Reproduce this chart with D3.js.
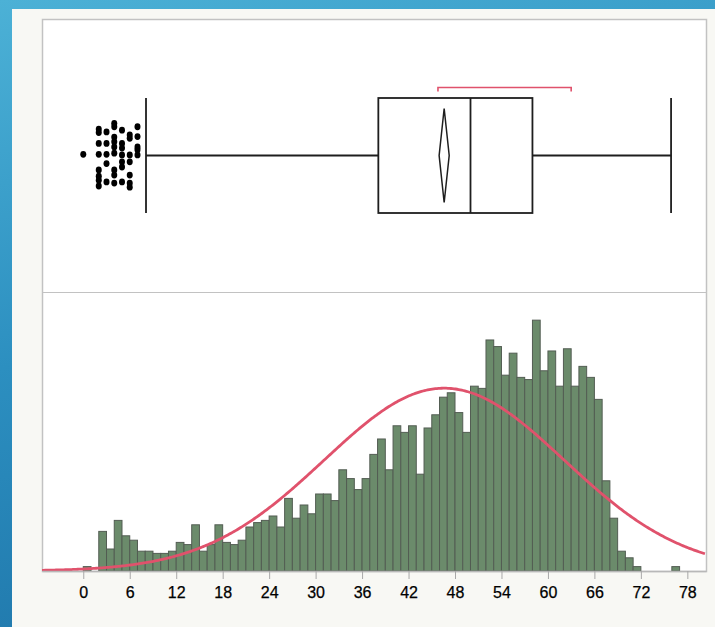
<!DOCTYPE html>
<html>
<head>
<meta charset="utf-8">
<script src="https://cdn.jsdelivr.net/npm/d3@7"></script>
<style>
  html, body { margin: 0; padding: 0; }
  body {
    width: 715px; height: 627px; overflow: hidden;
    background: linear-gradient(165deg, #4cb1d6 0%, #2c8fc0 45%, #1b6ea3 100%);
  }
  svg { display: block; }
  .tick text {
    font-family: "Liberation Sans", Arial, sans-serif; font-size: 16px;
    fill: #000; stroke: #000; stroke-width: 0.25px;
  }
</style>
</head>
<body>
<svg id="chart" width="715" height="627"></svg>
<script>
// histogram: counts for bins [k, k+1), k = 0..76
const binStart = 0;
const binCounts = [
  2, 0, 18, 10, 23, 16, 14, 9, 9, 8,
  8, 9, 13, 12, 21, 9, 12, 21, 13, 12,
  14, 20, 22, 23, 25, 20, 33, 24, 30, 26,
  35, 35, 32, 46, 42, 37, 42, 53, 60, 46,
  66, 63, 66, 44, 65, 71, 79, 81, 72, 63,
  84, 83, 105, 102, 89, 99, 88, 87, 114, 91,
  100, 84, 101, 84, 93, 88, 78, 41, 24, 9,
  6, 2, 0, 0, 0, 0, 2
];
const tickValues = [0, 6, 12, 18, 24, 30, 36, 42, 48, 54, 60, 66, 72, 78];

// box plot summary
const whiskerLow = 8.1, q1 = 38.1, median = 50, q3 = 58, whiskerHigh = 75.9;
const mean = 46.6, meanCI = [45.95, 47.25], sd = 15.5;
const shortestHalf = [45.8, 63.0];

// low outliers (value, vertical jitter as fraction of box half-height)
const outlierValues = [
  0,
  2, 2, 2, 2, 2, 2, 2, 2,
  3, 3, 3, 3, 3,
  4, 4, 4, 4, 4, 4, 4, 4, 4,
  5, 5, 5, 5, 5, 5, 5,
  6, 6, 6, 6, 6, 6, 6,
  7, 7, 7, 7, 7
];
const outlierJitter = [
  -0.02,
  -0.46, -0.40, -0.21, -0.02, 0.25, 0.36, 0.43, 0.53,
  -0.41, -0.21, -0.02, 0.14, 0.46,
  -0.56, -0.50, -0.32, -0.24, -0.15, -0.04, 0.25, 0.34, 0.48,
  -0.44, -0.21, -0.13, -0.01, 0.11, 0.20, 0.46,
  -0.36, -0.30, -0.01, 0.11, 0.34, 0.48, 0.55,
  -0.50, -0.33, -0.15, -0.10, -0.01
];

const svg = d3.select("#chart");

// panel + frame
const frame = { left: 42, right: 706, top: 19, mid: 292, bottom: 571 };
svg.append("rect")
  .attr("x", 12).attr("y", 9).attr("width", 703).attr("height", 618)
  .attr("fill", "#f8f8f4");
svg.append("rect")
  .attr("x", frame.left + 0.5).attr("y", frame.top + 0.5)
  .attr("width", frame.right - frame.left).attr("height", frame.bottom - frame.top)
  .attr("fill", "#fff").attr("stroke", "#c2c2c2").attr("stroke-width", 1.5);
svg.append("line")
  .attr("x1", frame.left).attr("x2", frame.right)
  .attr("y1", frame.mid + 0.5).attr("y2", frame.mid + 0.5)
  .attr("stroke", "#c2c2c2").attr("stroke-width", 1.2);

const x = d3.scaleLinear().domain([-5.33, 80.41]).range([frame.left, frame.right]);
const y = d3.scaleLinear().domain([0, 126.8]).range([frame.bottom, frame.mid]);

// ---- histogram
const bins = binCounts.map((c, i) => ({ x0: binStart + i, x1: binStart + i + 1, n: c }))
  .filter(d => d.n > 0);

svg.append("g").selectAll("rect")
  .data(bins)
  .join("rect")
  .attr("x", d => x(d.x0))
  .attr("width", d => x(d.x1) - x(d.x0))
  .attr("y", d => y(d.n))
  .attr("height", d => y(0) - y(d.n))
  .attr("fill", "#6b8b6b")
  .attr("stroke", "#535d53")
  .attr("stroke-width", 1);

// fitted normal curve
const total = d3.sum(binCounts);
const pdf = v => total * Math.exp(-0.5 * ((v - mean) / sd) ** 2) / (sd * Math.sqrt(2 * Math.PI));
const curvePts = d3.range(x.domain()[0], x.domain()[1] + 0.01, 0.2);
svg.append("defs").append("clipPath").attr("id", "histClip")
  .append("rect").attr("x", frame.left).attr("y", frame.mid)
  .attr("width", frame.right - frame.left).attr("height", frame.bottom - frame.mid);
svg.append("path")
  .datum(curvePts)
  .attr("clip-path", "url(#histClip)")
  .attr("fill", "none")
  .attr("stroke", "#e0526c")
  .attr("stroke-width", 2.8)
  .attr("d", d3.line().x(d => x(d)).y(d => y(pdf(d))));

// axis
const axis = svg.append("g")
  .attr("transform", `translate(0,${frame.bottom})`)
  .call(d3.axisBottom(x).tickValues(tickValues).tickSize(8).tickSizeOuter(0)
    .tickPadding(8).tickFormat(d3.format("d")));
axis.select(".domain").attr("stroke", "#b8b8b8").attr("stroke-width", 1.5);
axis.selectAll(".tick line").attr("stroke", "#a8a8a8");

// ---- box plot
const cy = 155.5, halfH = 57.5;
const boxG = svg.append("g").attr("fill", "none").attr("stroke", "#1e1e1e").attr("stroke-width", 1.8);

boxG.append("line").attr("x1", x(whiskerLow)).attr("x2", x(q1)).attr("y1", cy).attr("y2", cy);
boxG.append("line").attr("x1", x(q3)).attr("x2", x(whiskerHigh)).attr("y1", cy).attr("y2", cy);
[whiskerLow, whiskerHigh].forEach(v => {
  boxG.append("line").attr("x1", x(v)).attr("x2", x(v)).attr("y1", cy - halfH).attr("y2", cy + halfH);
});
boxG.append("rect")
  .attr("x", x(q1)).attr("y", cy - halfH)
  .attr("width", x(q3) - x(q1)).attr("height", 2 * halfH)
  .attr("fill", "#fff");
boxG.append("line").attr("x1", x(median)).attr("x2", x(median)).attr("y1", cy - halfH).attr("y2", cy + halfH);

// mean diamond
const dh = 47;
boxG.append("path")
  .attr("d", `M${x(mean)},${cy - dh}L${x(meanCI[1])},${cy}L${x(mean)},${cy + dh}L${x(meanCI[0])},${cy}Z`)
  .attr("stroke-width", 1.5);

// shortest half bracket
const by = 87.5;
svg.append("path")
  .attr("d", `M${x(shortestHalf[0])},${by + 4}V${by}H${x(shortestHalf[1])}V${by + 4}`)
  .attr("fill", "none").attr("stroke", "#e0526c").attr("stroke-width", 1.6);

// outliers
svg.append("g").selectAll("ellipse")
  .data(outlierValues.map((v, i) => ({ v, j: outlierJitter[i] })))
  .join("ellipse")
  .attr("cx", d => x(d.v))
  .attr("cy", d => cy + d.j * halfH)
  .attr("rx", 3).attr("ry", 3.4)
  .attr("fill", "#000");
</script>
</body>
</html>
